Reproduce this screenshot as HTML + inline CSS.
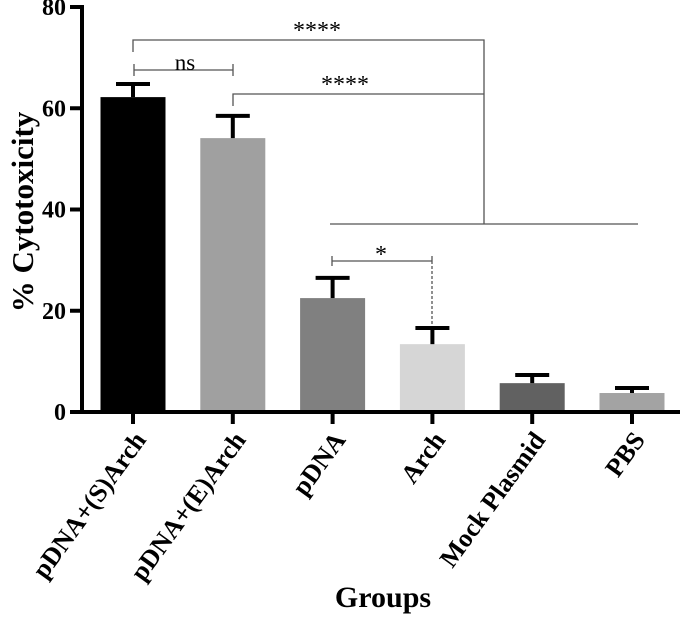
<!DOCTYPE html>
<html><head><meta charset="utf-8"><style>
body{margin:0;background:#fff}
svg text{font-family:"Liberation Serif",serif;font-weight:bold}
</style></head><body>
<svg width="685" height="615" id="c">
</svg>
<script>
const categories=["pDNA+(S)Arch","pDNA+(E)Arch","pDNA","Arch","Mock Plasmid","PBS"];
const values=[62.2,54.1,22.5,13.4,5.7,3.75];
const errors=[2.6,4.4,4.0,3.2,1.6,1.0];
const colors=["#000000","#a0a0a0","#808080","#d6d6d6","#616161","#a3a3a3"];
const yTicks=[0,20,40,60,80];
const svg=document.getElementById('c');
const NS="http://www.w3.org/2000/svg";
const y0=412,y80=7;
function Y(v){return y0-(v/80)*(y0-y80);}
function X(i){return 133+i*99.8;}
function el(t,a,txt){const e=document.createElementNS(NS,t);for(const k in a)e.setAttribute(k,a[k]);if(txt!==undefined)e.textContent=txt;svg.appendChild(e);return e;}
const bw=65;
values.forEach((v,i)=>{
 const b=el('rect',{x:X(i)-bw/2,y:Y(v),width:bw,height:y0-Y(v),fill:colors[i]});
 
 
 const e1=el('line',{x1:X(i),x2:X(i),y1:Y(v),y2:Y(v+errors[i]),stroke:'#000','stroke-width':4});
 
 
 const e2=el('line',{x1:X(i)-17,x2:X(i)+17,y1:Y(v+errors[i]),y2:Y(v+errors[i]),stroke:'#000','stroke-width':4});
 
 
 const t=el('line',{x1:X(i),x2:X(i),y1:y0,y2:y0+12,stroke:'#000','stroke-width':4});
 
 
 const lx=X(i)+14,ly=y0+28;
 const l=el('text',{x:lx,y:ly,'font-size':26,'text-anchor':'end',transform:`rotate(-54 ${lx} ${ly})`},categories[i]);
 
 
});
yTicks.forEach(v=>{
 const t=el('line',{x1:70,x2:82,y1:Y(v),y2:Y(v),stroke:'#000','stroke-width':4});
 
 
 const l=el('text',{x:66,y:Y(v)+8,'font-size':24,'text-anchor':'end'},v);
 
 
});
const ax=el('line',{x1:82,x2:82,y1:5,y2:y0+2,stroke:'#000','stroke-width':4});


const xx=el('line',{x1:80,x2:680,y1:y0,y2:y0,stroke:'#000','stroke-width':4});


const yt=el('text',{x:33,y:212,'font-size':31,'text-anchor':'middle',transform:'rotate(-90 33 212)'},'% Cytotoxicity');


const xt=el('text',{x:383,y:607,'font-size':30,'text-anchor':'middle'},'Groups');


function path(d,name,dash){const p=el('path',{d:d,fill:'none',stroke:'#555','stroke-width':1.3});if(dash)p.setAttribute('stroke-dasharray','3,2');}
function lab(x,y,t,s,name){const e=el('text',{x:x,y:y,'font-size':s,'text-anchor':'middle'},t);e.style.fontWeight='normal';}
path('M133 52 V40 H484 V224 M330 224 H638','sig-bracket-1');
lab(317,38,'****',24,'sig-label-1');
path('M233 106 V94 H484','sig-bracket-2');
lab(345,92,'****',24,'sig-label-2');
path('M134 64 V76 M134 70 H233 M233 64 V76','ns-bracket');
lab(185,70,'ns',23,'ns-label');
path('M332 256 V266 M332 261 H432 M432 256 V261','star-bracket');
path('M432 261 V326','star-dash',true);
lab(381,262,'*',24,'star-label');
</script>
</body></html>
